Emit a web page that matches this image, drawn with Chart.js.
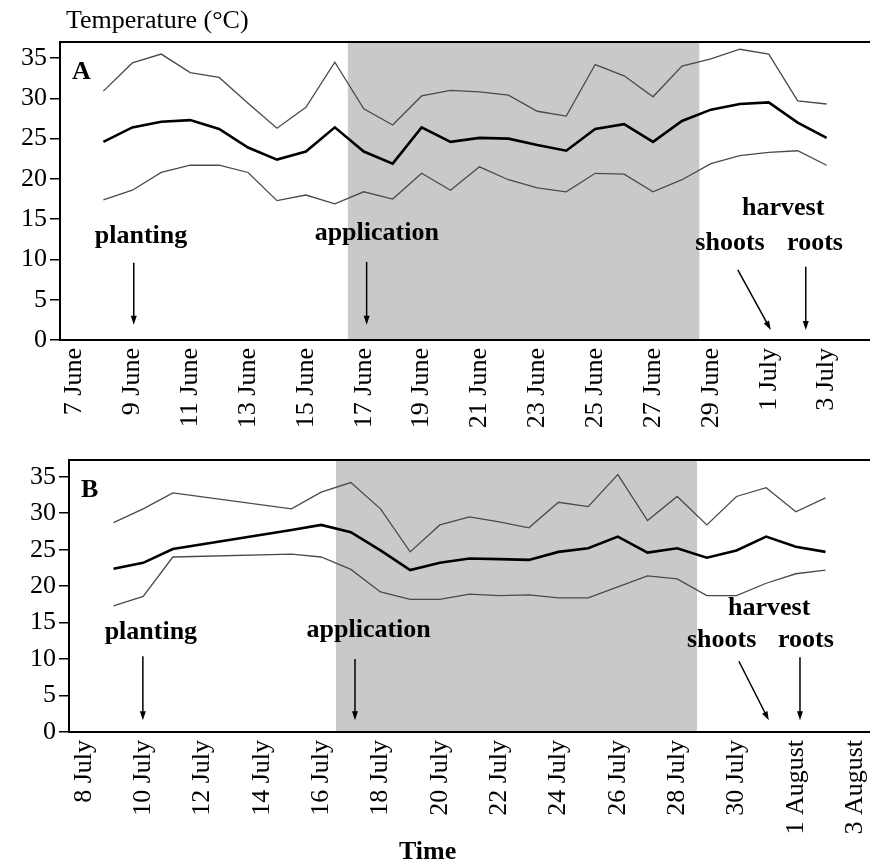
<!DOCTYPE html>
<html>
<head>
<meta charset="utf-8">
<script src="https://cdn.jsdelivr.net/npm/chart.js@4.4.0/dist/chart.umd.min.js"></script>
<style>
  body { margin: 0; background: #fff; }
  #wrap { position: relative; width: 870px; height: 864px; font-family: 'Liberation Serif', 'Times New Roman', serif; }
  canvas { position: absolute; left: 0; }
  #chartA { top: 0; }
  #chartB { top: 440px; }
  .lab { position: absolute; line-height: 1; white-space: nowrap; color: #000; }
</style>
</head>
<body>
<div id="wrap">
  <canvas id="chartA" width="870" height="440"></canvas>
  <canvas id="chartB" width="870" height="424"></canvas>
  <div class="lab" style="left:66px;top:7px;font-size:26px;">Temperature (°C)</div>
  <div class="lab" style="left:399px;top:838px;font-size:26px;font-weight:bold;">Time</div>
</div>
<script>
// panel A: categories 7 June - 4 July, series start 8 June
var daysA = ['7 June', '8 June', '9 June', '10 June', '11 June', '12 June', '13 June', '14 June',
    '15 June', '16 June', '17 June', '18 June', '19 June', '20 June', '21 June', '22 June', '23 June',
    '24 June', '25 June', '26 June', '27 June', '28 June', '29 June', '30 June', '1 July', '2 July',
    '3 July', '4 July'];
var maxA = [30.9, 34.4, 35.5, 33.2, 32.6, 29.4, 26.3, 28.9, 34.5, 28.7, 26.7, 30.3, 31.0, 30.8, 30.4,
    28.4, 27.8, 34.2, 32.8, 30.2, 34.0, 34.9, 36.1, 35.5, 29.7, 29.3];
var meanA = [24.6, 26.4, 27.1, 27.3, 26.2, 23.9, 22.4, 23.4, 26.4, 23.4, 21.9, 26.4, 24.6, 25.1, 25.0,
    24.2, 23.5, 26.2, 26.8, 24.6, 27.2, 28.6, 29.3, 29.5, 27.0, 25.1];
var minA = [17.4, 18.6, 20.8, 21.7, 21.7, 20.8, 17.3, 18.0, 16.9, 18.4, 17.5, 20.7, 18.6, 21.5, 19.9,
    18.9, 18.4, 20.7, 20.6, 18.4, 19.9, 21.9, 22.9, 23.3, 23.5, 21.7];
var shadeA = [9.45, 21.6];

// panel B: categories 8 July - 3 August, series start 9 July (12-14 July missing)
var daysB = ['8 July', '9 July', '10 July', '11 July', '12 July', '13 July', '14 July', '15 July',
    '16 July', '17 July', '18 July', '19 July', '20 July', '21 July', '22 July', '23 July', '24 July',
    '25 July', '26 July', '27 July', '28 July', '29 July', '30 July', '31 July', '1 August', '2 August',
    '3 August'];
var maxB = [28.7, 30.6, 32.8, null, null, null, 30.6, 32.9, 34.2, 30.6, 24.7, 28.4, 29.5, 28.8, 28.0,
    31.5, 30.9, 35.3, 29.0, 32.3, 28.4, 32.3, 33.5, 30.2, 32.1];
var meanB = [22.4, 23.2, 25.1, null, null, null, 27.7, 28.4, 27.4, 24.9, 22.2, 23.2, 23.8, 23.7, 23.6,
    24.7, 25.2, 26.8, 24.6, 25.2, 23.9, 24.9, 26.8, 25.4, 24.7];
var minB = [17.3, 18.6, 24.0, null, null, null, 24.4, 24.0, 22.3, 19.2, 18.2, 18.2, 18.9, 18.7, 18.8,
    18.4, 18.4, 19.9, 21.4, 21.0, 18.7, 18.7, 20.4, 21.7, 22.2];
var shadeB = [8.5, 20.67];

// annotations, in category index / degrees
var eventsA = [
    { text: 'planting', x: 2.3, y: 12.9, arrow: [2.05, 9.6, 2.05, 1.9] },
    { text: 'application', x: 10.45, y: 13.2, arrow: [10.1, 9.7, 10.1, 1.9] },
    { text: 'harvest', x: 24.5, y: 16.4 },
    { text: 'shoots', x: 22.66, y: 12.0, arrow: [22.93, 8.7, 24.07, 1.25] },
    { text: 'roots', x: 25.6, y: 12.0, arrow: [25.28, 9.1, 25.28, 1.25] }
];
var eventsB = [
    { text: 'planting', x: 2.26, y: 13.7, arrow: [1.99, 10.4, 1.99, 1.6] },
    { text: 'application', x: 9.6, y: 14.0, arrow: [9.14, 10.0, 9.14, 1.6] },
    { text: 'harvest', x: 23.1, y: 17.0 },
    { text: 'shoots', x: 21.5, y: 12.6, arrow: [22.08, 9.7, 23.09, 1.6] },
    { text: 'roots', x: 24.34, y: 12.6, arrow: [24.14, 10.25, 24.14, 1.6] }
];

var serif = "'Liberation Serif', 'Times New Roman', serif";

function drawArrow(ctx, x1, y1, x2, y2) {
    var ang = Math.atan2(y2 - y1, x2 - x1);
    var c = Math.cos(ang), s = Math.sin(ang);
    ctx.beginPath();
    ctx.moveTo(x1, y1);
    ctx.lineTo(x2 - 6 * c, y2 - 6 * s);
    ctx.stroke();
    ctx.beginPath();
    ctx.moveTo(x2, y2);
    ctx.lineTo(x2 - 9 * c + 3 * s, y2 - 9 * s - 3 * c);
    ctx.lineTo(x2 - 9 * c - 3 * s, y2 - 9 * s + 3 * c);
    ctx.closePath();
    ctx.fill();
}

var panelPlugin = {
    id: 'panel',
    beforeDraw: function (chart, args, opts) {
        var a = chart.chartArea, xs = chart.scales.x, ctx = chart.ctx;
        var x0 = xs.getPixelForValue(opts.shade[0]);
        var x1 = xs.getPixelForValue(opts.shade[1]);
        ctx.save();
        ctx.fillStyle = '#c9c9c9';
        ctx.fillRect(x0, a.top, x1 - x0, a.bottom - a.top);
        ctx.restore();
    },
    afterDraw: function (chart, args, opts) {
        var a = chart.chartArea, xs = chart.scales.x, ys = chart.scales.y, ctx = chart.ctx;
        ctx.save();
        // top frame line
        ctx.strokeStyle = '#000';
        ctx.lineWidth = 2;
        ctx.beginPath();
        ctx.moveTo(a.left, a.top);
        ctx.lineTo(a.right, a.top);
        ctx.stroke();

        ctx.fillStyle = '#000';
        ctx.font = 'bold 26px ' + serif;
        ctx.textAlign = 'left';
        ctx.textBaseline = 'alphabetic';
        ctx.fillText(opts.letter, a.left + 12, a.top + 37);

        ctx.textAlign = 'center';
        ctx.textBaseline = 'middle';
        ctx.lineWidth = 1.5;
        opts.events.forEach(function (ev) {
            ctx.fillText(ev.text, xs.getPixelForValue(ev.x), ys.getPixelForValue(ev.y));
            if (ev.arrow) {
                drawArrow(ctx,
                    xs.getPixelForValue(ev.arrow[0]), ys.getPixelForValue(ev.arrow[1]),
                    xs.getPixelForValue(ev.arrow[2]), ys.getPixelForValue(ev.arrow[3]));
            }
        });
        ctx.restore();
    }
};

function makeChart(id, days, maxT, meanT, minT, shade, events, letter, yMax, axisW, axisH, padTop) {
    var thin = { borderColor: '#4a4a4a', borderWidth: 1.3, pointRadius: 0, tension: 0, spanGaps: true, fill: false };
    return new Chart(document.getElementById(id), {
        type: 'line',
        data: {
            labels: days,
            datasets: [
                Object.assign({ label: 'Max', data: [null].concat(maxT) }, thin),
                { label: 'Mean', data: [null].concat(meanT), borderColor: '#000', borderWidth: 2.6,
                  pointRadius: 0, tension: 0, spanGaps: true, fill: false },
                Object.assign({ label: 'Min', data: [null].concat(minT) }, thin)
            ]
        },
        options: {
            responsive: false,
            animation: false,
            events: [],
            layout: { padding: { top: padTop, left: 0, right: 0, bottom: 0 } },
            plugins: {
                legend: { display: false },
                tooltip: { enabled: false },
                panel: { shade: shade, events: events, letter: letter }
            },
            scales: {
                x: {
                    offset: true,
                    grid: { display: false, drawTicks: false },
                    border: { color: '#000', width: 2 },
                    ticks: {
                        autoSkip: false, minRotation: 90, maxRotation: 90, padding: 8,
                        color: '#000', font: { family: serif, size: 26 },
                        callback: function (v, i) { return i % 2 === 0 ? this.getLabelForValue(v) : ''; }
                    },
                    afterFit: function (s) { s.height = axisH; s.paddingLeft = 0; s.paddingRight = 0; }
                },
                y: {
                    min: 0,
                    max: yMax,
                    ticks: {
                        stepSize: 5, includeBounds: false, padding: 3,
                        color: '#000', font: { family: serif, size: 26 },
                        callback: function (v) { return v % 5 === 0 ? v : ''; }
                    },
                    grid: { drawOnChartArea: false, drawTicks: true, tickLength: 10, color: '#000', lineWidth: 1.5 },
                    border: { color: '#000', width: 2 },
                    afterFit: function (s) { s.width = axisW; s.paddingTop = 0; s.paddingBottom = 0; }
                }
            }
        },
        plugins: [panelPlugin]
    });
}

makeChart('chartA', daysA, maxA, meanA, minA, shadeA, eventsA, 'A', 37, 60, 100, 42);
makeChart('chartB', daysB, maxB, meanB, minB, shadeB, eventsB, 'B', 37.3, 69, 132, 20);
</script>
</body>
</html>
